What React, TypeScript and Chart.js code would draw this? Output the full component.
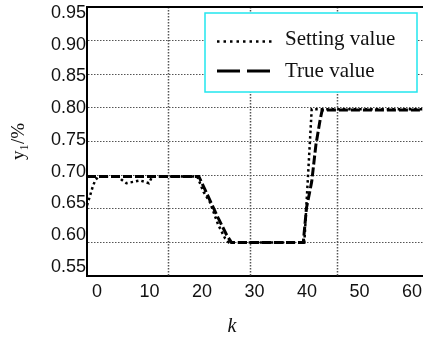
import React, { useEffect, useRef } from "react";
import { Chart, registerables } from "chart.js";

Chart.register(...registerables);

// ---- data ----
const xTicks = [0, 10, 20, 30, 40, 50, 60];
const xTickLabels = ["0", "10", "20", "30", "40", "50", "60"];
const yTicks = [0.55, 0.6, 0.65, 0.7, 0.75, 0.8, 0.85, 0.9, 0.95];
const yTickLabels = ["0.55", "0.60", "0.65", "0.70", "0.75", "0.80", "0.85", "0.90", "0.95"];
const vGridK = [15.4, 31.0, 47.6];

const seriesNames = ["Setting value", "True value"];
const xTitle = "k";
const yTitle = "y\u2081/%";

const settingK = [0, 0.6, 1.1, 1.6, 2.3, 6.0, 6.6, 7.5, 8.8, 10.1, 11.0, 11.8, 12.4, 21.0, 22.2, 23.4, 25.0, 26.3, 27.0, 41.4, 42.8, 64];
const settingY = [0.655, 0.67, 0.683, 0.693, 0.698, 0.698, 0.693, 0.688, 0.69, 0.692, 0.69, 0.688, 0.698, 0.698, 0.675, 0.66, 0.626, 0.606, 0.6, 0.6, 0.798, 0.798];

const trueK = [0, 21.3, 22.5, 23.8, 25.0, 26.6, 27.5, 41.2, 41.8, 42.8, 43.6, 44.4, 44.8, 64];
const trueY = [0.698, 0.698, 0.678, 0.656, 0.636, 0.611, 0.6, 0.6, 0.651, 0.69, 0.745, 0.782, 0.797, 0.797];

const SANS = "'Liberation Sans', Arial, sans-serif";
const SERIF = "'Liberation Serif', 'Times New Roman', serif";

const decorPlugin = {
  id: "decor",
  beforeDatasetsDraw(chart: any) {
    const { ctx, chartArea: a, scales } = chart;
    const x = scales.x;
    ctx.save();
    ctx.strokeStyle = "#555";
    ctx.lineWidth = 1.5;
    ctx.setLineDash([1.5, 1.5]);
    for (const k of vGridK) {
      const px = Math.round(x.getPixelForValue(k)) + 0.5;
      ctx.beginPath();
      ctx.moveTo(px, a.top);
      ctx.lineTo(px, a.bottom);
      ctx.stroke();
    }
    ctx.restore();
  },
  afterDraw(chart: any) {
    const { ctx, chartArea: a } = chart;
    ctx.save();
    // top frame line
    ctx.strokeStyle = "#000";
    ctx.lineWidth = 2;
    ctx.setLineDash([]);
    ctx.beginPath();
    ctx.moveTo(a.left, a.top);
    ctx.lineTo(a.right, a.top);
    ctx.stroke();

    // legend box
    const bx = a.left + 118;
    const by = a.top + 6;
    const bw = 212;
    const bh = 79;
    ctx.fillStyle = "#fff";
    ctx.fillRect(bx, by, bw, bh);
    ctx.strokeStyle = "#22e6ee";
    ctx.lineWidth = 1.5;
    ctx.strokeRect(bx, by, bw, bh);

    const sx0 = bx + 12;
    const sx1 = bx + 70;
    const tx = bx + 80;
    // row 1 dotted
    ctx.strokeStyle = "#000";
    ctx.lineWidth = 2.5;
    ctx.setLineDash([2.5, 4]);
    ctx.beginPath();
    ctx.moveTo(sx0, by + 28.5);
    ctx.lineTo(sx1, by + 28.5);
    ctx.stroke();
    // row 2 dashed
    ctx.lineWidth = 3;
    ctx.setLineDash([23, 7]);
    ctx.beginPath();
    ctx.moveTo(sx0, by + 58);
    ctx.lineTo(sx1, by + 58);
    ctx.stroke();
    ctx.setLineDash([]);

    ctx.fillStyle = "#111";
    ctx.font = `21px ${SERIF}`;
    ctx.textAlign = "left";
    ctx.textBaseline = "alphabetic";
    ctx.fillText(seriesNames[0], tx, by + 32);
    ctx.fillText(seriesNames[1], tx, by + 64);

    // x title
    ctx.font = `italic 20px ${SERIF}`;
    ctx.textAlign = "center";
    ctx.fillText(xTitle, a.left + 145, a.bottom + 56);
    ctx.restore();
  },
};

export default function App() {
  const ref = useRef<HTMLCanvasElement | null>(null);

  useEffect(() => {
    const canvas = ref.current;
    if (!canvas) return;
    const chart = new Chart(canvas, {
      type: "line",
      data: {
        datasets: [
          {
            label: seriesNames[0],
            data: settingK.map((k, i) => ({ x: k, y: settingY[i] })),
            xAxisID: "x",
            yAxisID: "y",
            borderColor: "#000",
            borderWidth: 2.5,
            borderDash: [2.5, 3],
            pointRadius: 0,
            tension: 0,
            fill: false,
          },
          {
            label: seriesNames[1],
            data: trueK.map((k, i) => ({ x: k, y: trueY[i] })),
            xAxisID: "x",
            yAxisID: "y",
            borderColor: "#000",
            borderWidth: 3,
            borderDash: [9, 3],
            pointRadius: 0,
            tension: 0,
            fill: false,
          },
        ],
      },
      options: {
        responsive: false,
        maintainAspectRatio: false,
        devicePixelRatio: 1,
        animation: false,
        events: [],
        layout: { padding: { top: 7, left: 0, right: 0, bottom: 0 } },
        plugins: {
          legend: { display: false },
          tooltip: { enabled: false },
          title: { display: false },
        },
        scales: {
          x: {
            type: "linear",
            axis: "x",
            min: 0,
            max: 64,
            afterBuildTicks: (s: any) => {
              s.ticks = xTicks.map((v) => ({ value: v }));
            },
            afterFit: (s: any) => {
              s.height = 64;
              s.paddingLeft = 0;
              s.paddingRight = 0;
            },
            grid: { display: false, drawTicks: false },
            border: { display: true, color: "#000", width: 2 },
            ticks: {
              padding: 5,
              labelOffset: 10,
              maxRotation: 0,
              autoSkip: false,
              color: "#111",
              font: { family: SANS, size: 18 },
              callback: (_v: any, i: number) => xTickLabels[i],
            },
          },
          y: {
            type: "linear",
            axis: "y",
            position: "left",
            weight: 0,
            min: 0.55,
            max: 0.95,
            afterBuildTicks: (s: any) => {
              s.ticks = yTicks.map((v) => ({ value: v }));
            },
            afterFit: (s: any) => {
              s.width = 0;
              s.paddingTop = 0;
              s.paddingBottom = 0;
            },
            grid: {
              drawTicks: false,
              lineWidth: 1,
              color: (c: any) =>
                c.tick && (c.tick.value <= 0.551 || c.tick.value >= 0.949) ? "rgba(0,0,0,0)" : "#555",
            },
            border: { display: true, color: "#000", width: 2, dash: [1.5, 1.5] },
            ticks: { display: false },
          },
          yl: {
            type: "linear",
            axis: "y",
            position: "left",
            weight: 1,
            min: 0.5358,
            max: 0.95945,
            afterBuildTicks: (s: any) => {
              s.ticks = yTicks.map((v) => ({ value: v }));
            },
            afterFit: (s: any) => {
              s.width = 87;
              s.paddingTop = 0;
              s.paddingBottom = 0;
            },
            grid: { display: false, drawTicks: false },
            border: { display: false },
            ticks: {
              padding: 1,
              autoSkip: false,
              color: "#111",
              font: { family: SANS, size: 18 },
              callback: (_v: any, i: number) => yTickLabels[i],
            },
            title: {
              display: true,
              text: yTitle,
              color: "#111",
              font: { family: SERIF, size: 19 },
              padding: { top: 8, bottom: 0 },
            },
          },
        },
      },
      plugins: [decorPlugin],
    } as any);
    return () => chart.destroy();
  }, []);

  return (
    <div style={{ position: "fixed", left: 0, top: 0, width: 423, height: 340, background: "#fff" }}>
      <canvas ref={ref} width={423} height={340} style={{ display: "block" }} />
    </div>
  );
}
